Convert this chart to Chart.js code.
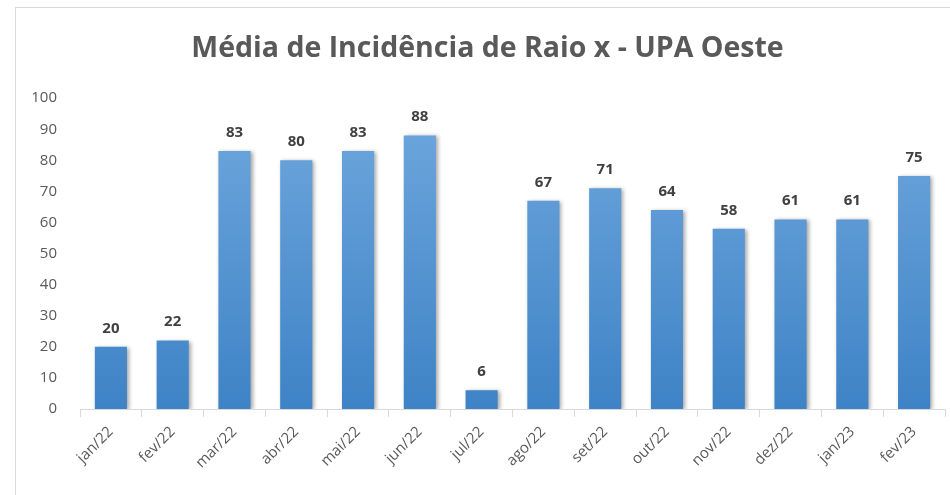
<!DOCTYPE html>
<html>
<head>
<meta charset="utf-8">
<script src="https://cdn.jsdelivr.net/npm/chart.js@4.4.1/dist/chart.umd.min.js"></script>
<style>
  html, body { margin: 0; padding: 0; background: #fff; }
  #frame { position: absolute; left: 15px; top: 7px; width: 945px; height: 500px; border: 1px solid #d9d9d9; box-sizing: border-box; }
  #wrap { position: absolute; left: 0; top: 0; width: 950px; height: 495px; }
</style>
</head>
<body>
<div id="frame"></div>
<div id="wrap"><canvas id="chart"></canvas></div>
<script>
const TITLE = 'Média de Incidência de Raio x - UPA Oeste';
const months = ['jan/22', 'fev/22', 'mar/22', 'abr/22', 'mai/22', 'jun/22', 'jul/22',
  'ago/22', 'set/22', 'out/22', 'nov/22', 'dez/22', 'jan/23', 'fev/23'];
const incidence = [20, 22, 83, 80, 83, 88, 6, 67, 71, 64, 58, 61, 61, 75];
const yTicks = [0, 10, 20, 30, 40, 50, 60, 70, 80, 90, 100];

const FONT = "'Open Sans', 'Liberation Sans', sans-serif";

// gradiente das barras (mais claro em cima)
function barGradient(context) {
  const chart = context.chart;
  const area = chart.chartArea;
  if (!area) return '#5b9bd5';
  const g = chart.ctx.createLinearGradient(0, area.top, 0, area.bottom);
  g.addColorStop(0, '#70a8de');
  g.addColorStop(1, '#3e83c6');
  return g;
}

// sombra leve nas barras
const shadowPlugin = {
  id: 'barShadow',
  beforeDatasetDraw(chart) {
    const ctx = chart.ctx;
    ctx.save();
    ctx.shadowColor = 'rgba(0,0,0,0.35)';
    ctx.shadowBlur = 4;
    ctx.shadowOffsetX = 2;
    ctx.shadowOffsetY = 1;
  },
  afterDatasetDraw(chart) {
    chart.ctx.restore();
  }
};

// rótulos de valor acima das barras
const valueLabels = {
  id: 'valueLabels',
  afterDatasetsDraw(chart) {
    const ctx = chart.ctx;
    const meta = chart.getDatasetMeta(0);
    ctx.save();
    ctx.font = "bold 15px " + FONT;
    ctx.fillStyle = '#404040';
    ctx.textAlign = 'center';
    ctx.textBaseline = 'bottom';
    meta.data.forEach((bar, i) => {
      ctx.fillText(String(incidence[i]), bar.x, bar.y - 11);
    });
    ctx.restore();
  }
};

new Chart(document.getElementById('chart'), {
  type: 'bar',
  data: {
    labels: months,
    datasets: [{
      label: 'Média',
      data: incidence,
      backgroundColor: barGradient,
      borderWidth: 0,
      barPercentage: 0.52,
      categoryPercentage: 1.0
    }]
  },
  options: {
    responsive: true,
    maintainAspectRatio: false,
    animation: false,
    layout: { padding: { left: 30, right: 5, top: 14, bottom: 6 } },
    plugins: {
      legend: { display: false },
      tooltip: { enabled: false },
      title: {
        display: true,
        text: TITLE,
        color: '#595959',
        font: { family: FONT, size: 28.5, weight: 'bold' },
        padding: { top: 18, bottom: 32 }
      }
    },
    scales: {
      y: {
        min: 0,
        max: 100,
        afterFit(scale) { scale.width = 50; },
        afterBuildTicks(scale) { scale.ticks = yTicks.map(v => ({ value: v })); },
        ticks: { color: '#595959', font: { family: FONT, size: 15 }, padding: 15 },
        grid: { display: false },
        border: { display: false }
      },
      x: {
        afterFit(scale) { scale.height = 80; },
        ticks: { color: '#595959', font: { family: FONT, size: 15 }, minRotation: 45, maxRotation: 45, padding: 6 },
        grid: { display: true, offset: true, drawOnChartArea: false, color: '#d9d9d9', tickLength: 8 },
        border: { display: true, color: '#d9d9d9', width: 1 }
      }
    }
  },
  plugins: [shadowPlugin, valueLabels]
});
</script>
</body>
</html>
